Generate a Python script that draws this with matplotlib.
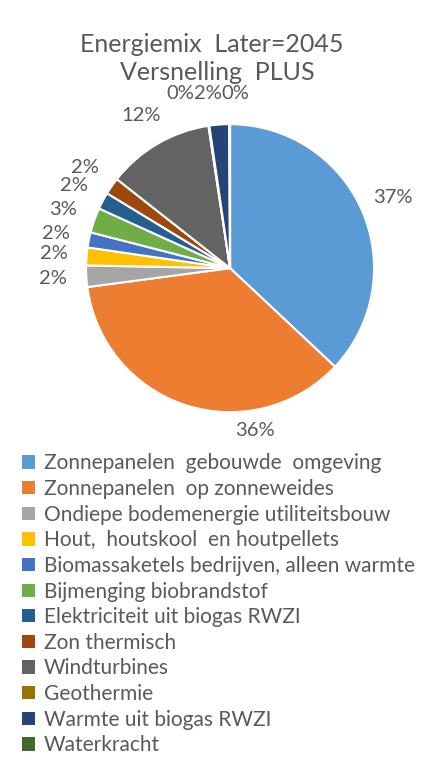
import numpy as np
import matplotlib
matplotlib.use("Agg")
import matplotlib.pyplot as plt
from matplotlib.patches import Patch

# data (shares in %)
categories = ["Zonnepanelen  gebouwde  omgeving", "Zonnepanelen  op zonneweides",
              "Ondiepe bodemenergie utiliteitsbouw", "Hout,  houtskool  en houtpellets",
              "Biomassaketels bedrijven, alleen warmte", "Bijmenging biobrandstof",
              "Elektriciteit uit biogas RWZI", "Zon thermisch", "Windturbines",
              "Geothermie", "Warmte uit biogas RWZI", "Waterkracht"]
shares = [37.0, 35.9, 2.4, 2.0, 1.7, 2.8, 1.9, 1.9, 12.0, 0.1, 2.2, 0.1]
colors = ["#5B9BD5", "#ED7D31", "#A5A5A5", "#FFC000", "#4472C4", "#70AD47",
          "#255E91", "#9E480E", "#636363", "#997300", "#264478", "#43682B"]

txt = "#595959"
plt.rcParams['font.family'] = ['Lato', 'DejaVu Sans']

fig = plt.figure(figsize=(4.45, 7.75), dpi=100)
ax = fig.add_axes([0.517 - 0.3236, 0.654 - 0.1858, 0.6472, 0.3716])

wedges, _ = ax.pie(shares, colors=colors, startangle=90, counterclock=False,
                   wedgeprops=dict(edgecolor="white", linewidth=1.5))
ax.set_xlim(-1, 1)
ax.set_ylim(-1, 1)
ax.set_aspect("equal")

# data labels, Excel "best fit" look; a few moved by hand like Excel does
total = sum(shares)
moved = {1: (0.17, -1.125), 9: (-0.347, 1.21), 10: (-0.156, 1.21), 11: (0.035, 1.21)}
for i, w in enumerate(wedges):
    ang = np.deg2rad((w.theta1 + w.theta2) / 2)
    x, y = 1.23 * np.cos(ang), 1.23 * np.sin(ang)
    if i in moved:
        x, y = moved[i]
    ax.text(x, y, "%d%%" % round(shares[i] / total * 100), ha="center", va="center",
            fontsize=14.5, color=txt, clip_on=False)

fig.text(0.476, 0.942, "Energiemix  Later=2045", ha="center", va="center", fontsize=18, color=txt)
fig.text(0.488, 0.906, "Versnelling  PLUS", ha="center", va="center", fontsize=18, color=txt)

handles = [Patch(facecolor=c, edgecolor="none") for c in colors]
fig.legend(handles, categories, loc="upper left", bbox_to_anchor=(0.05, 0.415),
           frameon=False, fontsize=15, labelcolor=txt, handlelength=0.6,
           handleheight=0.6, handletextpad=0.45, labelspacing=0.27, borderpad=0,
           borderaxespad=0)

fig.savefig("out.png", dpi=100)
